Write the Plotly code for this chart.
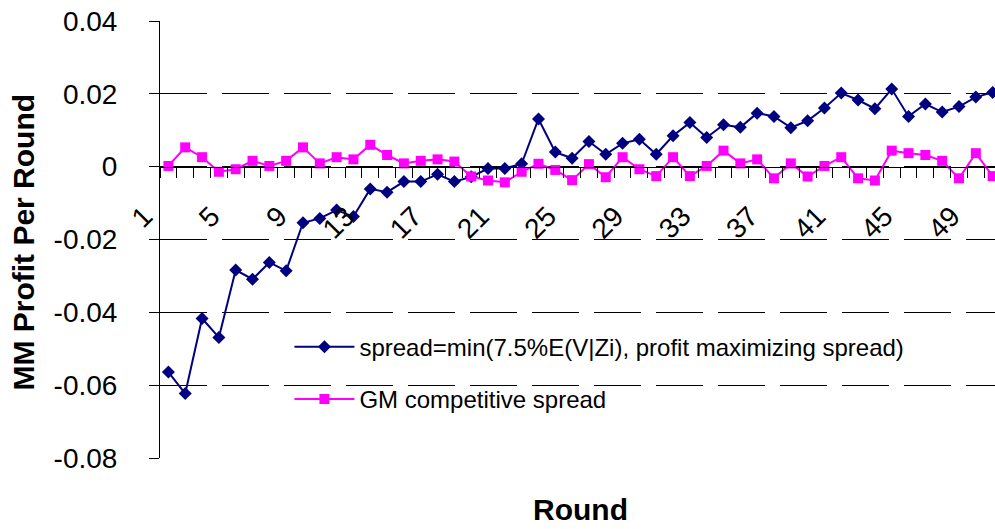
import plotly.graph_objects as go

rounds = list(range(1, 51))

spread_min = [
    -0.0564, -0.0623, -0.0417, -0.0469, -0.0284, -0.0309, -0.0263, -0.0286, -0.0154, -0.0142,
    -0.0119, -0.0137, -0.0061, -0.0070, -0.0041, -0.0041, -0.0021, -0.0041, -0.0028, -0.0005,
    -0.0005, 0.0008, 0.0131, 0.0040, 0.0023, 0.0069, 0.0034, 0.0064, 0.0075, 0.0034,
    0.0085, 0.0121, 0.0080, 0.0115, 0.0108, 0.0147, 0.0138, 0.0107, 0.0126, 0.0161,
    0.0202, 0.0183, 0.0159, 0.0213, 0.0138, 0.0172, 0.0150, 0.0165, 0.0191, 0.0204,
]

gm_competitive = [
    0.0002, 0.0053, 0.0026, -0.0014, -0.0007, 0.0016, 0.0002, 0.0016, 0.0053, 0.0009,
    0.0026, 0.0020, 0.0060, 0.0032, 0.0009, 0.0016, 0.0020, 0.0014, -0.0027, -0.0038,
    -0.0043, -0.0014, 0.0008, -0.0009, -0.0037, 0.0007, -0.0029, 0.0026, -0.0007, -0.0026,
    0.0026, -0.0026, 0.0002, 0.0044, 0.0009, 0.0020, -0.0032, 0.0009, -0.0027, 0.0002,
    0.0026, -0.0032, -0.0038, 0.0044, 0.0037, 0.0032, 0.0016, -0.0032, 0.0037, -0.0026,
]

y_tickvals = [0.04, 0.02, 0, -0.02, -0.04, -0.06, -0.08]
y_ticktext = ["0.04", "0.02", "0", "-0.02", "-0.04", "-0.06", "-0.08"]
x_tickvals = list(range(1, 51, 4))
x_ticktext = [str(v) for v in x_tickvals]

series_names = [
    "spread=min(7.5%E(V|Zi), profit maximizing spread)",
    "GM competitive spread",
]

FONT = "Arial, Liberation Sans, sans-serif"

fig = go.Figure()
fig.add_trace(go.Scatter(
    x=rounds, y=spread_min, name=series_names[0], mode="lines+markers",
    line=dict(color="#000080", width=2),
    marker=dict(symbol="diamond", size=10, color="#000080"),
    legendgroup="a",
))
fig.add_trace(go.Scatter(
    x=rounds, y=gm_competitive, name=series_names[1], mode="lines+markers",
    line=dict(color="#FF00FF", width=2),
    marker=dict(symbol="square", size=10, color="#FF00FF"),
    legendgroup="b",
))

fig.update_layout(
    width=995, height=529,
    margin=dict(l=160, r=0, t=21, b=71),
    paper_bgcolor="white", plot_bgcolor="white",
    font=dict(family=FONT, color="black"),
    showlegend=True,
    legend=dict(
        x=0.155, y=0.305, xanchor="left", yanchor="top",
        bgcolor="rgba(0,0,0,0)", borderwidth=0,
        font=dict(size=24, family=FONT, color="black"),
        traceorder="grouped", tracegroupgap=18, itemwidth=60,
    ),
    xaxis=dict(
        range=[0.5, 50.14], anchor="free", position=2 / 3,
        showline=True, linecolor="black", linewidth=1,
        tickmode="array", tickvals=x_tickvals, ticktext=x_ticktext,
        ticks="", tickangle=-45, tickfont=dict(size=28, family=FONT),
        ticklabelshift=-24, ticklabelstandoff=21,
        showgrid=False, zeroline=False,
        minor=dict(ticks="outside", tick0=0.5, dtick=1, ticklen=10,
                   tickcolor="black", tickwidth=1, showgrid=False),
    ),
    yaxis=dict(
        range=[-0.08, 0.04], domain=[0, 1],
        showline=True, linecolor="black", linewidth=1,
        tickmode="array", tickvals=y_tickvals, ticktext=y_ticktext,
        ticks="outside", ticklen=10, tickcolor="black", tickwidth=1,
        tickfont=dict(size=28, family=FONT), ticklabelstandoff=26,
        showgrid=True, gridcolor="black", gridwidth=1, griddash="47px,15px",
        zeroline=False,
    ),
    annotations=[
        dict(text="<b>Round</b>", xref="paper", yref="paper", x=0.503, y=-0.118,
             xanchor="center", yanchor="middle", showarrow=False,
             font=dict(size=30, family=FONT, color="black")),
        dict(text="<b>MM Profit Per Round</b>", xref="paper", yref="paper", x=-0.163, y=0.495,
             xanchor="center", yanchor="middle", textangle=-90, showarrow=False,
             font=dict(size=30, family=FONT, color="black")),
    ],
)

fig.write_html(
    "out.html",
    config={"displayModeBar": False},
    post_script="document.body.style.margin='0';document.body.style.overflow='hidden';",
)
